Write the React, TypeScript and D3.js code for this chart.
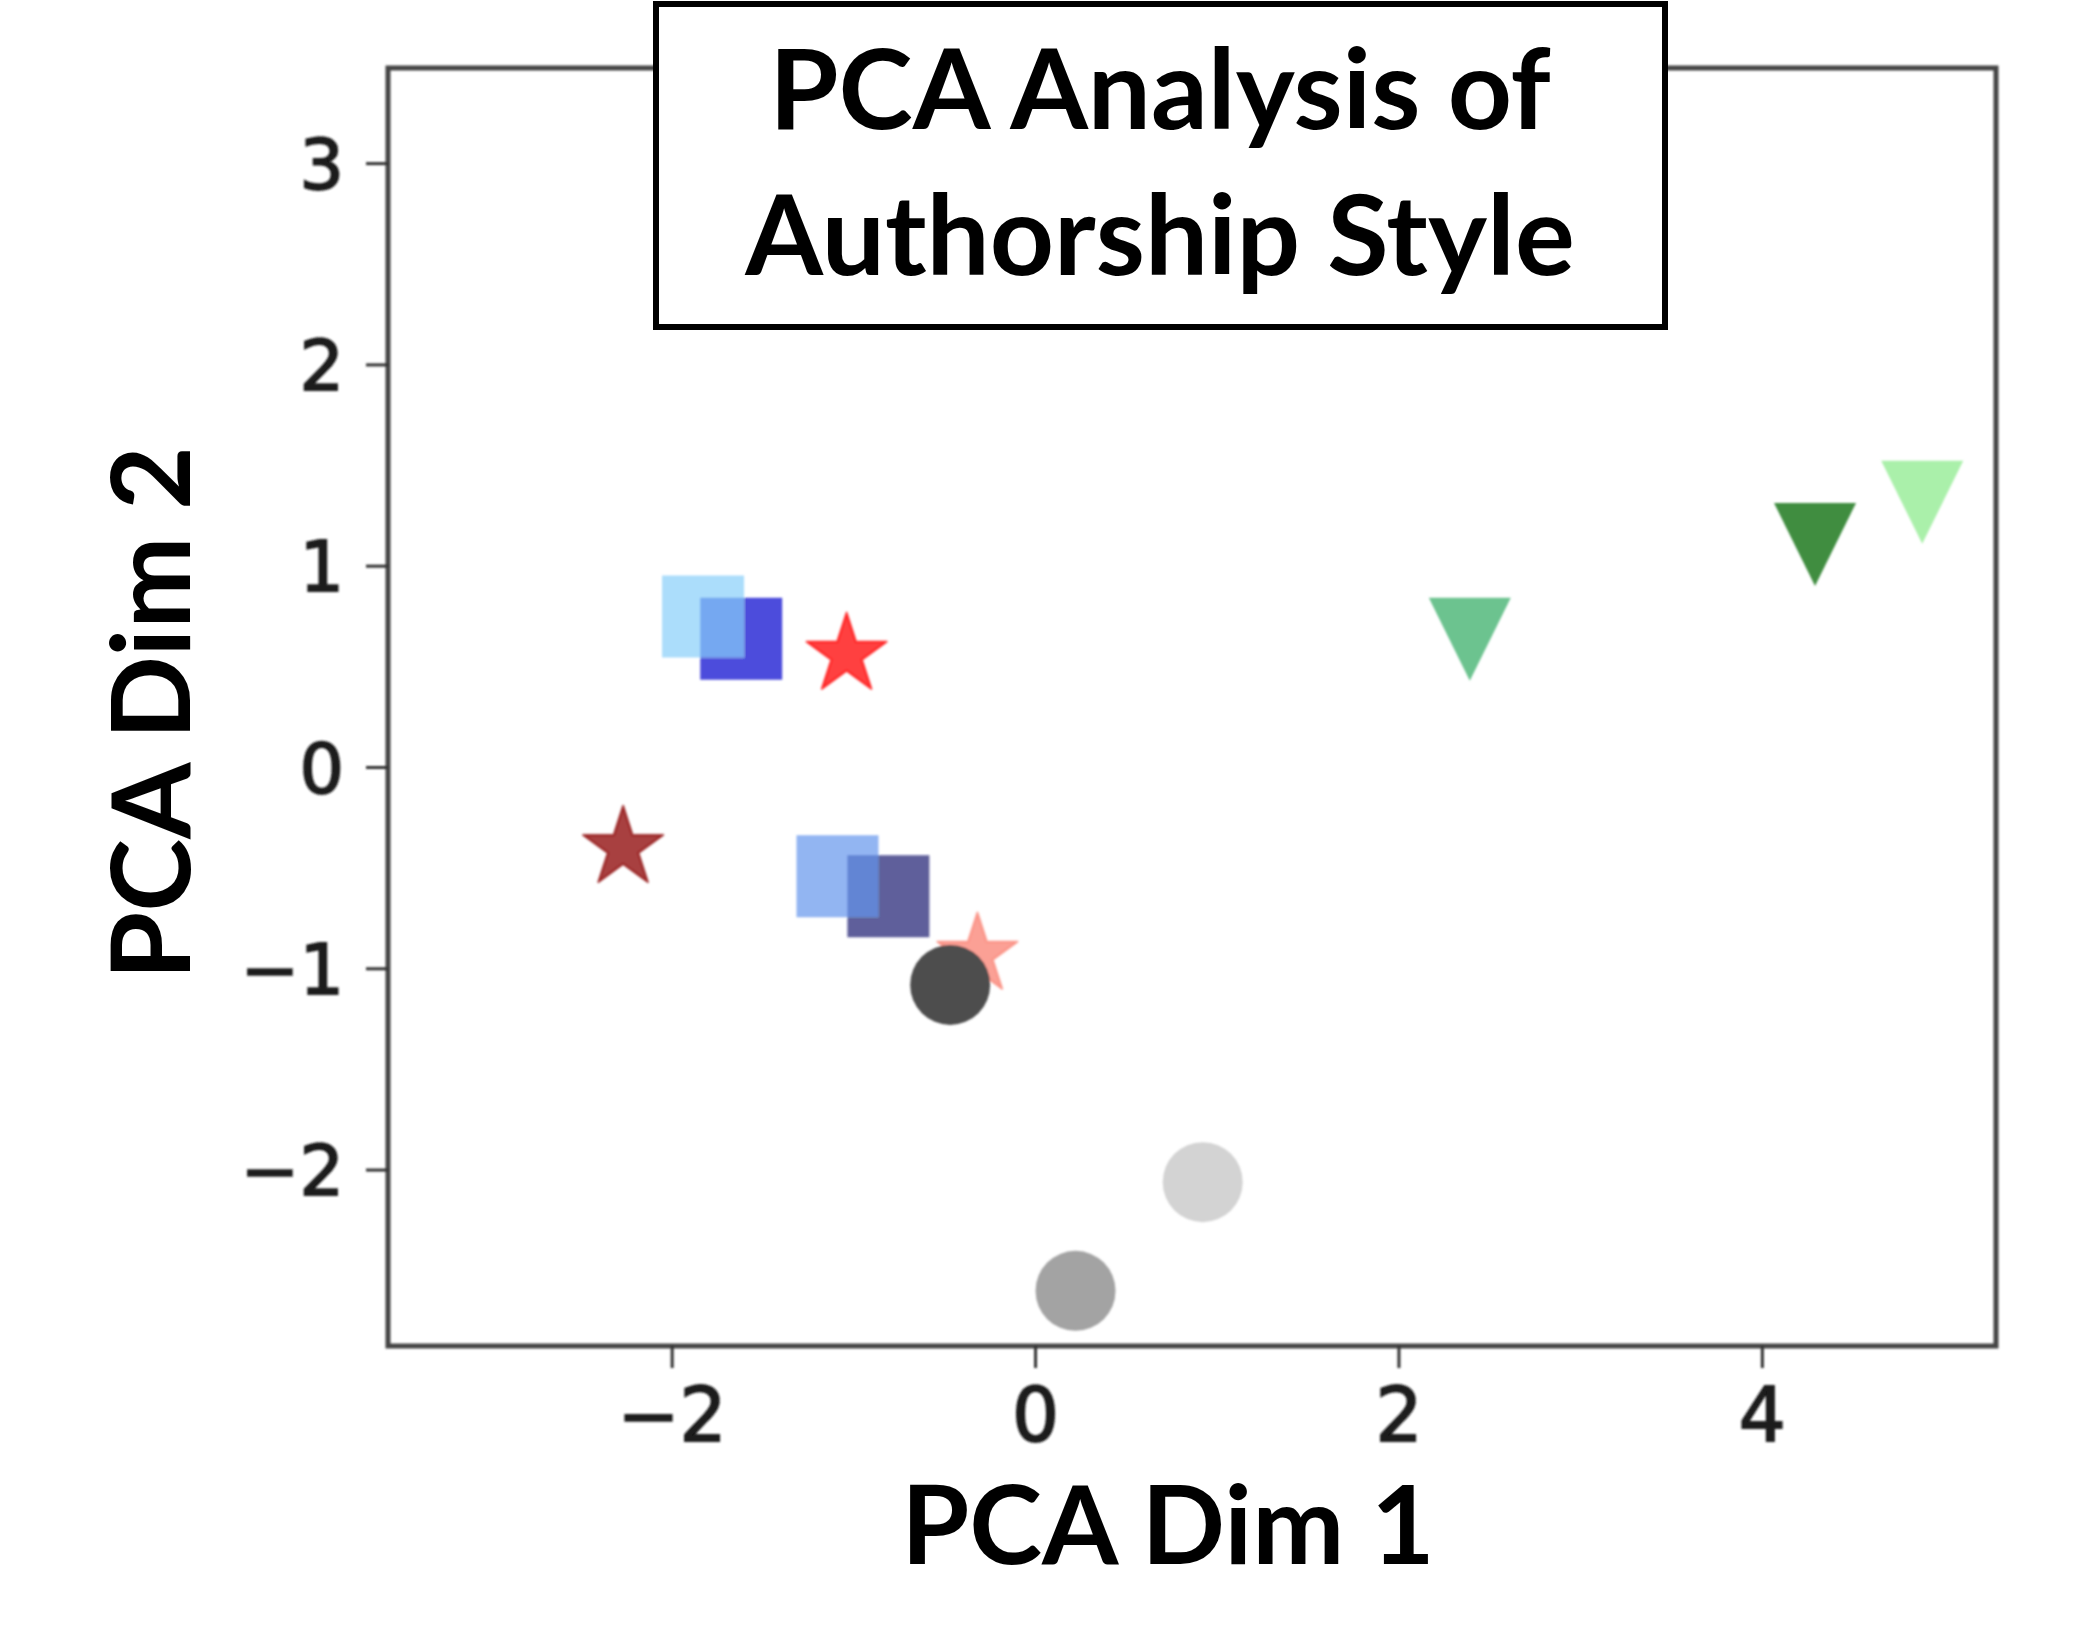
import React from "react";
import * as d3 from "d3";

const W = 2100;
const H = 1642;
const PLOT = { left: 388, right: 1996, top: 68, bottom: 1346 };

const xDomain = [-3.564, 5.286];
const yDomain = [-2.874, 3.475];
const xTicks = [-2, 0, 2, 4];
const yTicks = [-2, -1, 0, 1, 2, 3];

// squares (drawn in this order)
const squareX = [-1.62, -1.83, -0.81, -1.09];
const squareY = [0.64, 0.75, -0.64, -0.54];
const squareColors = ["#0000cd", "#87cefa", "#191970", "#6495ed"];

// stars
const starX = [-2.27, -1.04, -0.32];
const starY = [-0.4, 0.56, -0.93];
const starColors = ["#8b0000", "#ff0000", "#fa8072"];

// circles
const circleX = [-0.47, 0.92, 0.22];
const circleY = [-1.08, -2.06, -2.6];
const circleColors = ["#4d4d4d", "#d3d3d3", "#a3a3a3"];

// down triangles
const triX = [2.39, 4.29, 4.88];
const triY = [0.64, 1.11, 1.32];
const triColors = ["#6cc38f", "#3f8d40", "#aaf0aa"];

const TITLE = ["PCA Analysis of", "Authorship Style"];

export default function App() {
  const x = d3.scaleLinear().domain(xDomain).range([PLOT.left, PLOT.right]);
  const y = d3.scaleLinear().domain(yDomain).range([PLOT.bottom, PLOT.top]);

  const square = d3.symbol(d3.symbolSquare, 82 * 82)();
  const circle = d3.symbol(d3.symbolCircle, Math.PI * 40 * 40)();
  const star = d3.symbol(d3.symbolStar, (42 * 42) / 0.8908130915292852)();
  const tri = d3.line()([[-41, -41], [41, -41], [0, 42]]) + "Z";

  const fmt = (v: number) => (v < 0 ? "\u2212" + Math.abs(v) : String(v));
  const tickFont = "'DejaVu Sans', sans-serif";
  const labelFont = "Lato, 'Noto Sans', sans-serif";

  return (
    <svg width={W} height={H} style={{ position: "absolute", left: 0, top: 0, background: "#fff" }}>
      <defs>
        <clipPath id="plotclip">
          <rect x={PLOT.left} y={PLOT.top} width={PLOT.right - PLOT.left} height={PLOT.bottom - PLOT.top} />
        </clipPath>
        <filter id="soft" x="-5%" y="-5%" width="110%" height="110%">
          <feGaussianBlur stdDeviation={1.3} />
        </filter>
      </defs>

      <g filter="url(#soft)">
        <g clipPath="url(#plotclip)">
          {starX.map((v, i) => (
            <path key={"s" + i} d={star} transform={`translate(${x(v)},${y(starY[i])})`}
              fill={starColors[i]} fillOpacity={0.75} stroke={starColors[i]} strokeOpacity={0.6}
              strokeWidth={2.5} strokeLinejoin="round" />
          ))}
          {squareX.map((v, i) => (
            <path key={"q" + i} d={square} transform={`translate(${x(v)},${y(squareY[i])})`}
              fill={squareColors[i]} fillOpacity={0.7} />
          ))}
          {circleX.map((v, i) => (
            <path key={"c" + i} d={circle} transform={`translate(${x(v)},${y(circleY[i])})`}
              fill={circleColors[i]} />
          ))}
          {triX.map((v, i) => (
            <path key={"t" + i} d={tri} transform={`translate(${x(v)},${y(triY[i])})`}
              fill={triColors[i]} />
          ))}
        </g>

        <rect x={PLOT.left} y={PLOT.top} width={PLOT.right - PLOT.left} height={PLOT.bottom - PLOT.top}
          fill="none" stroke="#444" strokeWidth={5} />

        {xTicks.map((t) => (
          <g key={"xt" + t}>
            <line x1={x(t)} x2={x(t)} y1={PLOT.bottom} y2={PLOT.bottom + 22} stroke="#333" strokeWidth={3} />
            <text x={x(t)} y={1414} textAnchor="middle" dy="0.36em" fontFamily={tickFont} fontSize={74}
              fill="#1a1a1a" stroke="#1a1a1a" strokeWidth={1.8}>
              {fmt(t)}
            </text>
          </g>
        ))}
        {yTicks.map((t) => (
          <g key={"yt" + t}>
            <line x1={PLOT.left - 22} x2={PLOT.left} y1={y(t)} y2={y(t)} stroke="#333" strokeWidth={3} />
            <text x={PLOT.left - 44} y={y(t)} textAnchor="end" dy="0.36em" fontFamily={tickFont} fontSize={70}
              fill="#1a1a1a" stroke="#1a1a1a" strokeWidth={1.8}>
              {fmt(t)}
            </text>
          </g>
        ))}
      </g>

      <text x={1168} y={1564} textAnchor="middle" fontFamily={labelFont} fontWeight={700} fontSize={110}>
        PCA Dim 1
      </text>
      <text transform="translate(190,713) rotate(-90)" textAnchor="middle" fontFamily={labelFont}
        fontWeight={700} fontSize={110}>
        PCA Dim 2
      </text>

      <rect x={656} y={4} width={1009} height={323} fill="#fff" stroke="#000" strokeWidth={6} />
      {TITLE.map((line, i) => (
        <text key={line} x={1160} y={129 + i * 146} textAnchor="middle" fontFamily={labelFont}
          fontWeight={700} fontSize={112}>
          {line}
        </text>
      ))}
    </svg>
  );
}
